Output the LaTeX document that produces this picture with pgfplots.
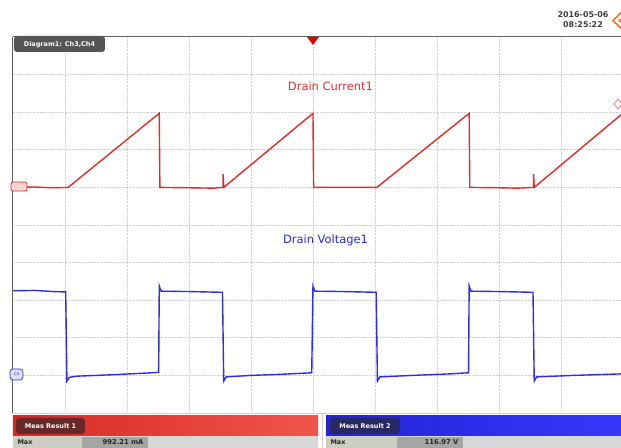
\documentclass[border=0pt]{standalone}
\usepackage{pgfplots}
\pgfplotsset{compat=1.18}
\usepackage{fontspec}
\setmainfont{DejaVu Sans}
\definecolor{trRed}{RGB}{222,45,40}
\definecolor{trBlue}{RGB}{45,45,230}
\definecolor{txRed}{RGB}{225,50,50}
\definecolor{txBlue}{RGB}{40,40,215}
\definecolor{gridc}{RGB}{208,208,208}
\definecolor{framec}{RGB}{95,95,95}
\definecolor{tabgrey}{RGB}{85,85,85}
\definecolor{barRedL}{RGB}{215,40,35}
\definecolor{barRedR}{RGB}{240,85,75}
\definecolor{barBlueL}{RGB}{35,35,215}
\definecolor{barBlueR}{RGB}{55,55,250}
\definecolor{tabRed}{RGB}{105,40,40}
\definecolor{tabBlue}{RGB}{40,40,100}
\definecolor{rowgrey}{RGB}{215,215,215}
\definecolor{maxlab}{RGB}{205,205,195}
\definecolor{valgrey}{RGB}{165,165,165}
\definecolor{rsorange}{RGB}{235,120,50}
\begin{document}
\begin{tikzpicture}
\path[use as bounding box, fill=white] (-13bp,413bp) rectangle (608bp,-35bp);
\begin{axis}[anchor=south west, width=608bp, height=376bp, scale only axis,
  xmin=-4.84, xmax=4.97, ymin=-5, ymax=5,
  xtick={-4,...,4}, ytick={-4,...,4}, xticklabels={}, yticklabels={},
  major tick length=0pt,
  grid=major, grid style={gridc, densely dotted, line width=0.7bp},
  axis line style={draw=none}, clip=true]
% Drain Current1 (red), divisions
\addplot[trRed, line width=1.4bp] coordinates {
(-4.84,1.0) (-4.5,1.01) (-4.2,0.99) (-3.95,1.0)
(-2.48,2.97) (-2.47,1.0) (-2.0,0.99) (-1.6,0.98) (-1.45,1.0) (-1.45,1.35) (-1.44,1.0)
(0.0,2.97) (0.01,1.0) (0.5,1.0) (1.03,1.0)
(2.52,2.97) (2.53,1.0) (3.0,0.99) (3.3,0.98) (3.56,1.0) (3.56,1.35) (3.57,1.0)
(4.97,2.93)};
% Drain Voltage1 (blue)
\addplot[trBlue, line width=1.4bp] coordinates {
(-4.84,-1.75) (-4.5,-1.74) (-4.2,-1.77) (-3.99,-1.78) (-3.97,-4.15) (-3.93,-4.05)
(-3.8,-4.02) (-3.2,-3.98) (-2.6,-3.93) (-2.49,-3.92)
(-2.48,-1.62) (-2.45,-1.76) (-2.0,-1.77) (-1.46,-1.79)
(-1.44,-4.15) (-1.4,-4.04) (-1.0,-4.0) (-0.5,-3.97) (-0.02,-3.93)
(0.0,-1.62) (0.03,-1.76) (0.5,-1.77) (1.02,-1.79)
(1.04,-4.15) (1.08,-4.04) (1.6,-4.0) (2.2,-3.96) (2.51,-3.93)
(2.52,-1.62) (2.55,-1.76) (3.0,-1.77) (3.55,-1.79)
(3.57,-4.15) (3.61,-4.04) (4.2,-4.0) (4.97,-3.96)};
\node[anchor=west, text=txRed, font=\fontsize{11.5}{13}\selectfont] at (axis cs:-0.46,3.70) {Drain Current1};
\node[anchor=west, text=txBlue, font=\fontsize{11.5}{13}\selectfont] at (axis cs:-0.54,-0.40) {Drain Voltage1};
\end{axis}
\begin{scope}[x=1bp, y=-1bp, xshift=-13bp, yshift=413bp]
% frame
\draw[framec, line width=1bp] (13,37) -- (621,37);
\draw[framec, line width=1bp] (13,37) -- (13,413);
\draw[gridc, line width=0.8bp] (13,413.5) -- (621,413.5);
% diagram tab
\fill[tabgrey, rounded corners=3bp] (14,36) rectangle (105,52);
\node[text=white, font=\bfseries\fontsize{6.5}{7}\selectfont] at (59.5,44.5) {Diagram1: Ch3,Ch4};
% trigger marker
\fill[red!90!black] (307,37) -- (319,37) -- (313,45) -- cycle;
% date
\node[text=black!75, font=\bfseries\fontsize{8}{10.5}\selectfont, align=center] at (583,19.5) {2016-05-06\\08:25:22};
% logo
\draw[rsorange, line width=1.6bp] (626,8) -- (613,20.5) -- (626,33);
\draw[rsorange, line width=1.2bp] (626,14) -- (619,20.5) -- (626,27);
% channel markers
\draw[trRed, fill=trRed!20, rounded corners=2bp, line width=0.7bp] (11,182) rectangle (27,191);
\draw[trBlue, fill=trBlue!15, rounded corners=3bp, line width=0.7bp] (10,369) rectangle (23,380);
\node[text=trBlue, font=\fontsize{4}{4}\selectfont] at (16.5,374.5) {C4};
\draw[trRed!60, line width=0.8bp] (618,99) -- (622,104) -- (618,109) -- (614,104) -- cycle;
% bottom bars
\fill[white] (0,414) rectangle (621,448);
\shade[left color=barRedL, right color=barRedR] (13,416) rectangle (318,436);
\fill[tabRed, rounded corners=3bp] (16,418) rectangle (85,434);
\node[text=white, font=\bfseries\fontsize{6.5}{7}\selectfont] at (50.5,426) {Meas Result 1};
\fill[rowgrey] (13,436) rectangle (318,448);
\fill[maxlab] (13,437) rectangle (82,448);
\fill[valgrey] (82,437) rectangle (148,448);
\node[anchor=west, text=black!85, font=\bfseries\fontsize{6.5}{7}\selectfont] at (14,442.5) {Max};
\node[anchor=east, text=black!85, font=\bfseries\fontsize{6.8}{7}\selectfont] at (147,442.5) {992.21 mA};
\draw[gridc, line width=0.8bp] (322,414) -- (322,448);
\shade[left color=barBlueL, right color=barBlueR] (326,416) rectangle (621,436);
\fill[tabBlue, rounded corners=3bp] (330,418) rectangle (400,434);
\node[text=white, font=\bfseries\fontsize{6.5}{7}\selectfont] at (365,426) {Meas Result 2};
\fill[rowgrey] (326,436) rectangle (621,448);
\fill[maxlab] (326,437) rectangle (397,448);
\fill[valgrey] (397,437) rectangle (463,448);
\node[anchor=west, text=black!85, font=\bfseries\fontsize{6.5}{7}\selectfont] at (327,442.5) {Max};
\node[anchor=east, text=black!85, font=\bfseries\fontsize{6.8}{7}\selectfont] at (462,442.5) {116.97 V};
\end{scope}
\end{tikzpicture}
\end{document}
